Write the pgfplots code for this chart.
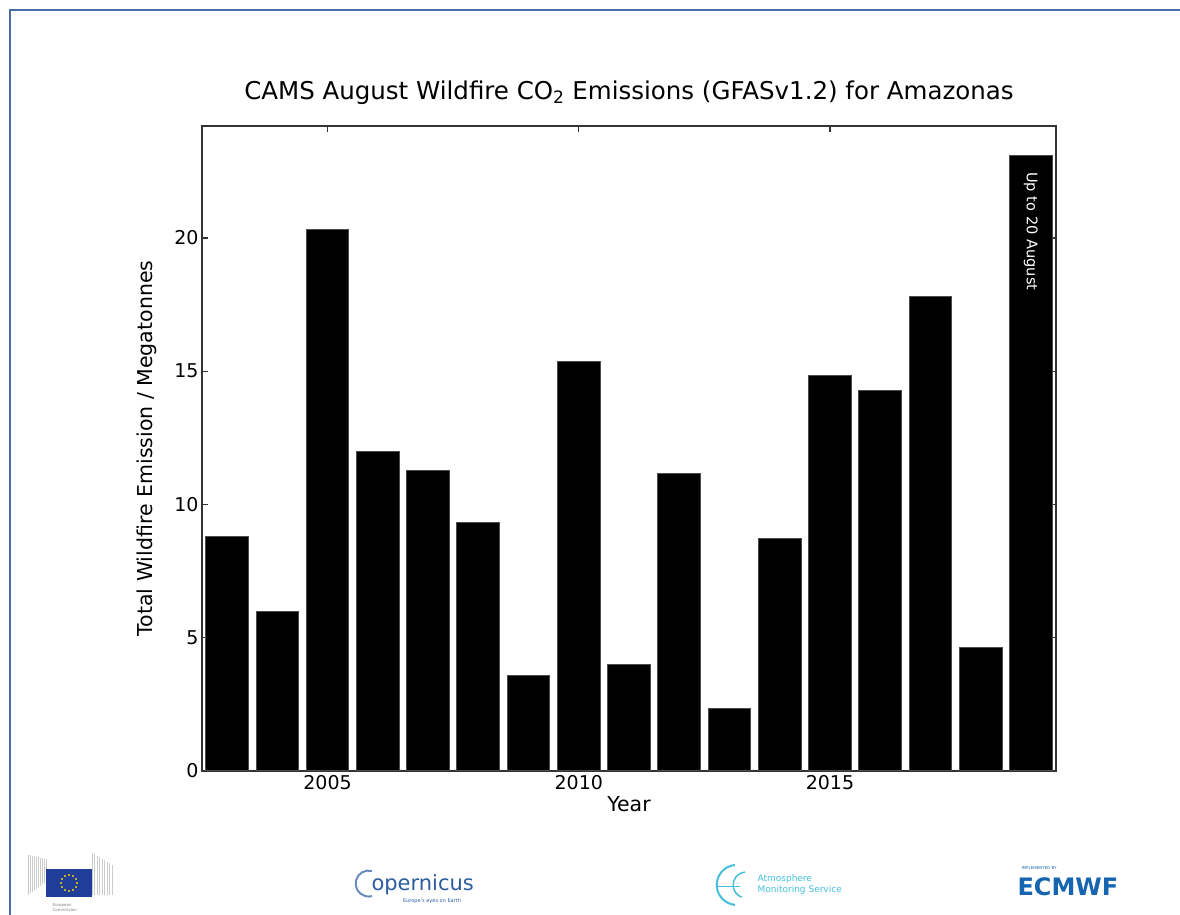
\documentclass[border=0pt]{standalone}
\usepackage{fontspec}
\setmainfont{DejaVu Sans}
\usepackage{pgfplots}
\pgfplotsset{compat=1.18}
\definecolor{framecol}{HTML}{4A6FA5}
\definecolor{axcol}{HTML}{333333}
\definecolor{eublue}{HTML}{1F3D99}
\definecolor{euyel}{HTML}{FFD200}
\definecolor{copblue}{HTML}{2B5C9E}
\definecolor{atmcyan}{HTML}{45BFDB}
\definecolor{ecblue}{HTML}{1565B0}
\begin{document}
\begin{tikzpicture}[x=1pt,y=1pt]
\useasboundingbox (0,0) rectangle (1180,915);
\draw[framecol, line width=1.2pt] (10,0) -- (10,905) -- (1180,905);
\node[font=\fontsize{24.5}{28}\selectfont] at (629,822) {CAMS August Wildfire CO\textsubscript{2} Emissions (GFASv1.2) for Amazonas};
\begin{axis}[
  at={(202pt,144pt)}, anchor=south west,
  scale only axis, width=854pt, height=645pt,
  xmin=2002.5, xmax=2019.5, ymin=0, ymax=24.2,
  ybar, bar width=0.85,
  xtick={2005,2010,2015}, ytick={0,5,10,15,20},
  tick align=inside, major tick length=6pt,
  axis line style={axcol, line width=1.4pt},
  every tick/.style={axcol, line width=1.2pt},
  /pgf/number format/assume math mode=true,
  /pgf/number format/1000 sep={},
  tick label style={font=\fontsize{19}{22}\selectfont, black},
  xticklabel style={yshift=-1pt},
  xlabel={Year}, ylabel={Total Wildfire Emission / Megatonnes},
  label style={font=\fontsize{20.5}{24}\selectfont},
  xlabel style={at={(axis description cs:0.5,0)}, anchor=north, yshift=-22pt},
  ylabel style={at={(axis description cs:0,0.5)}, anchor=south, yshift=42pt},
]
\addplot[fill=black, draw=black!70, line width=1pt] coordinates {
(2003,8.78) (2004,6.0) (2005,20.3) (2006,11.97) (2007,11.26) (2008,9.31)
(2009,3.6) (2010,15.38) (2011,4.01) (2012,11.18) (2013,2.36) (2014,8.71)
(2015,14.82) (2016,14.26) (2017,17.79) (2018,4.62) (2019,23.11)};
\node[white, rotate=-90, anchor=west, font=\fontsize{14.6}{16}\selectfont] at (axis cs:2019,22.6) {Up to 20 August};
\end{axis}
% logos (approximate)
\foreach \i in {0,...,9} {\draw[gray!40, line width=0.6pt] (28+\i*2,20+\i*1.5) -- (28+\i*2,60-\i*0.5);}
\foreach \i in {0,...,8} {\draw[gray!40, line width=0.6pt] (92+\i*2.5,20) -- (92+\i*2.5,62-\i*1.5);}
\fill[eublue] (46,18) rectangle (92,46);
\foreach \a in {0,30,...,330} {\fill[euyel] (69,32) ++(\a:8) circle (1.1);}
\node[gray, font=\fontsize{4}{5}\selectfont, align=left, anchor=north west] at (49,15) {European\\Commission};
\draw[copblue!70, line width=2pt] (372,44) arc (75:285:13);
\node[copblue, font=\fontsize{21}{22}\selectfont, anchor=west] at (368,30) {opernicus};
\node[copblue, font=\fontsize{5}{6}\selectfont] at (432,14) {Europe's eyes on Earth};
\draw[atmcyan, line width=2pt] (735,50) arc (95:265:20);
\draw[atmcyan, line width=1.5pt] (745,43) arc (95:250:13);
\draw[atmcyan, line width=1pt] (718,28) -- (740,28);
\node[atmcyan, font=\fontsize{9}{11}\selectfont, align=left, anchor=west] at (754,30) {Atmosphere\\Monitoring Service};
\node[ecblue, font=\fontsize{4}{5}\selectfont, anchor=west] at (1018,47) {IMPLEMENTED BY};
\node[ecblue, font=\bfseries\fontsize{24}{26}\selectfont, anchor=west] at (1014,28) {\textbf{ECMWF}};
\end{tikzpicture}
\end{document}
